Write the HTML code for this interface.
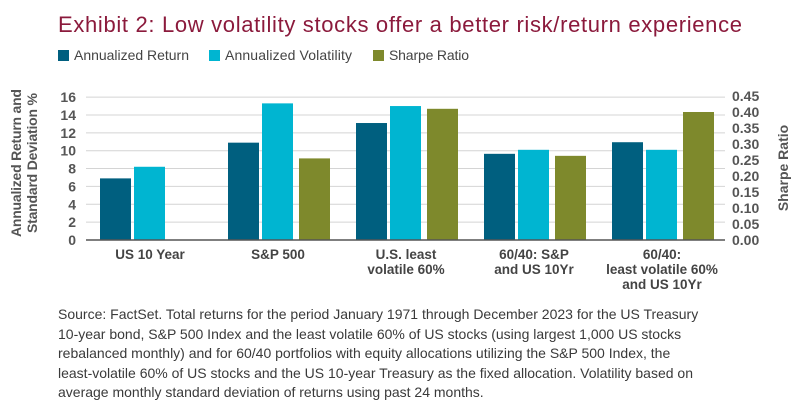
<!DOCTYPE html>
<html><head><meta charset="utf-8"><style>
body{margin:0;background:#fff;width:799px;height:407px;overflow:hidden;font-family:"Liberation Sans",sans-serif}
.src{position:absolute;left:58px;top:305px;width:740px;font-size:14px;line-height:19.5px;color:#3a3a3a;white-space:nowrap}
</style></head><body>
<svg width="799" height="300" style="position:absolute;left:0;top:0" font-family="Liberation Sans, sans-serif">
<text x="58" y="32" font-size="22" fill="#8b1a3c" textLength="684">Exhibit 2: Low volatility stocks offer a better risk/return experience</text>
<g id="legend" font-size="14" fill="#444"></g>
<g id="grid"></g><g id="bars"></g><g id="axes"></g>
</svg>
<div class="src">Source: FactSet. Total returns for the period January 1971 through December 2023 for the US Treasury<br>10-year bond, S&amp;P 500 Index and the least volatile 60% of US stocks (using largest 1,000 US stocks<br>rebalanced monthly) and for 60/40 portfolios with equity allocations utilizing the S&amp;P 500 Index, the<br>least-volatile 60% of US stocks and the US 10-year Treasury as the fixed allocation. Volatility based on<br>average monthly standard deviation of returns using past 24 months.</div>
<script>
const categories=[["US 10 Year"],["S&P 500"],["U.S. least","volatile 60%"],["60/40: S&P","and US 10Yr"],["60/40:","least volatile 60%","and US 10Yr"]];
const returns=[6.9,10.9,13.1,9.65,10.95];
const vols=[8.2,15.3,15.0,10.1,10.1];
const sharpe=[null,0.255,0.41,0.263,0.40];
const leftTicks=[0,2,4,6,8,10,12,14,16];
const rightTicks=["0.00","0.05","0.10","0.15","0.20","0.25","0.30","0.35","0.40","0.45"];
const seriesNames=["Annualized Return","Annualized Volatility","Sharpe Ratio"];
const colors=["#005f7f","#00b5d1","#7e892c"];
const NS="http://www.w3.org/2000/svg";
function mk(t,a,p,txt){const e=document.createElementNS(NS,t);for(const k in a)e.setAttribute(k,a[k]);if(txt!=null)e.textContent=txt;p.appendChild(e);return e;}
const y0=240,ppu=8.93;
const yL=v=>y0-v*ppu;
const yR=v=>y0-v/0.45*144;
const xG=i=>150+i*128;
const bw=31;
const lg=document.getElementById('legend');
const lx=[58,209,373],lw=[115,127,80];
seriesNames.forEach((n,i)=>{
 const r=mk('rect',{x:lx[i],y:50,width:11,height:11,fill:colors[i]},lg);
 
 const t=mk('text',{x:lx[i]+16,y:60,textLength:lw[i]},lg,n);
 
});
const grid=document.getElementById('grid'),axes=document.getElementById('axes'),bars=document.getElementById('bars');
leftTicks.forEach(v=>{
 if(v>0){const l=mk('line',{x1:86,x2:725,y1:yL(v),y2:yL(v),stroke:'#d4d4d4','stroke-width':1},grid);}
 const t=mk('text',{x:76,y:yL(v)+5,'text-anchor':'end','font-size':14,'font-weight':'bold',fill:'#555'},axes,String(v));
 
});
rightTicks.forEach(s=>{
 const t=mk('text',{x:732,y:yR(parseFloat(s))+5,'font-size':14,'font-weight':'bold',fill:'#555'},axes,s);
 
});
const ax=mk('line',{x1:86,x2:725,y1:y0,y2:y0,stroke:'#555','stroke-width':1.5},axes);

categories.forEach((c,i)=>{
 const cx=xG(i);
 const vals=[yL(returns[i]),yL(vols[i]),sharpe[i]==null?null:yR(sharpe[i])];
 const offs=[-50,-16,21];
 vals.forEach((y,j)=>{
  if(y==null)return;
  const b=mk('rect',{x:cx+offs[j],y:y,width:bw,height:y0-y,fill:colors[j]},bars);
  
  
 });
 c.forEach((ln,k)=>{
  const t=mk('text',{x:cx,y:259+k*15,'text-anchor':'middle','font-size':13.5,'font-weight':'bold',fill:'#444'},axes,ln);
  
 });
});
const lt=mk('text',{transform:'translate(28,163) rotate(-90)','text-anchor':'middle','font-size':14,'font-weight':'bold',fill:'#555'},axes);

mk('tspan',{x:0,dy:-7,textLength:148},lt,'Annualized Return and');mk('tspan',{x:0,dy:16,textLength:140},lt,'Standard Deviation %');
const rt=mk('text',{transform:'translate(788,168) rotate(-90)','text-anchor':'middle','font-size':14,'font-weight':'bold',fill:'#555'},axes,'Sharpe Ratio');

</script>
</body></html>
